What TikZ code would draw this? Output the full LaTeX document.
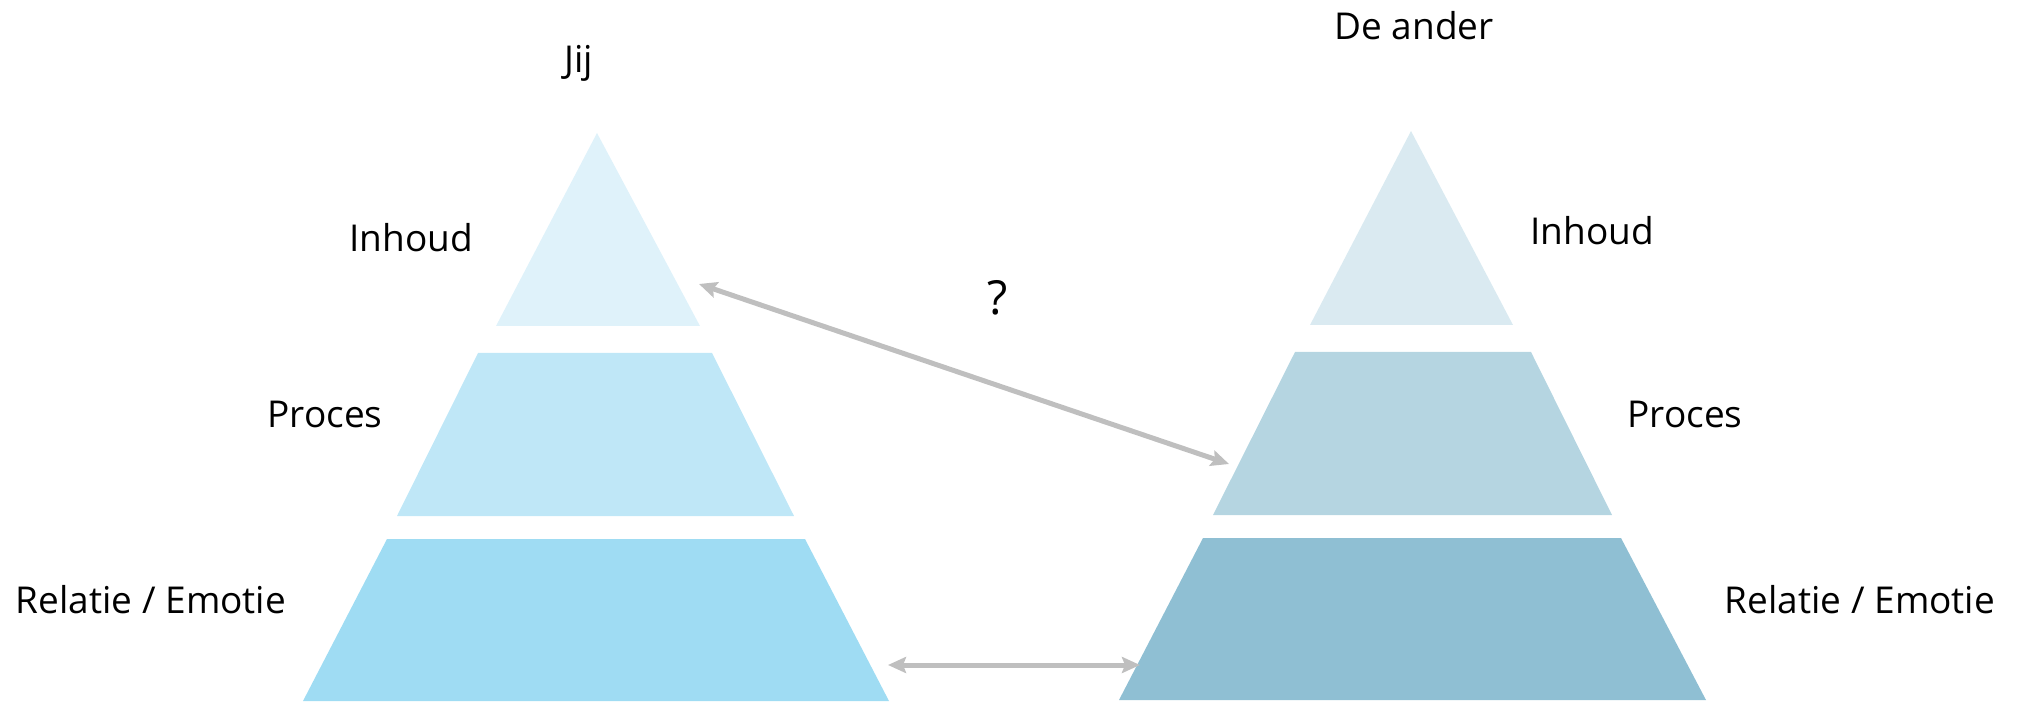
\documentclass[tikz,border=0pt]{standalone}
\usepackage{fontspec}
\setmainfont{Open Sans}
\usetikzlibrary{arrows.meta}
\definecolor{lA}{HTML}{DFF2FA}
\definecolor{lB}{HTML}{BFE7F7}
\definecolor{lC}{HTML}{9FDCF3}
\definecolor{rA}{HTML}{DAEAF1}
\definecolor{rB}{HTML}{B5D5E1}
\definecolor{rC}{HTML}{8FBFD3}
\definecolor{arrowgray}{HTML}{BFBFBF}
\tikzset{
  lbl/.style={font=\fontsize{37}{44}\selectfont, inner sep=0pt, anchor=base},
  link/.style={draw=arrowgray, line width=5pt, {Stealth[length=18pt,width=16pt,inset=3pt]}-{Stealth[length=18pt,width=16pt,inset=3pt]}}
}
\begin{document}
\begin{tikzpicture}[x=1pt,y=-1pt]
\useasboundingbox (0,0) rectangle (2022,703);
% left pyramid
\fill[lA] (597,133) -- (700,326) -- (496,326) -- cycle;
\fill[lB] (478,353) -- (712,353) -- (794,516) -- (397,516) -- cycle;
\fill[lC] (387,539) -- (805,539) -- (889,701) -- (303,701) -- cycle;
% right pyramid
\fill[rA] (1411,131) -- (1513,325) -- (1310,325) -- cycle;
\fill[rB] (1295,352) -- (1531,352) -- (1612,515) -- (1213,515) -- cycle;
\fill[rC] (1203,538) -- (1621,538) -- (1706,700) -- (1119,700) -- cycle;
% labels
\node[lbl] (jij) at (579,73) {Jij};
\node[lbl] (ander) at (1414,40) {De ander};
\node[lbl] (inhL) at (411,252) {Inhoud};
\node[lbl] (proL) at (325,427) {Proces};
\node[lbl] (relL) at (151,613) {Relatie / Emotie};
\node[lbl] (inhR) at (1592,245) {Inhoud};
\node[lbl] (proR) at (1685,427) {Proces};
\node[lbl] (relR) at (1860,613) {Relatie / Emotie};
\node[lbl, font=\fontsize{47}{56}\selectfont] (q) at (998,315) {?};
% connectors
\coordinate (dA) at (699,284);
\coordinate (dB) at (1229,464);
\coordinate (hA) at (888,665);
\coordinate (hB) at (1140,665);
\draw[link] (dA) -- (dB);
\draw[link] (hA) -- (hB);
\end{tikzpicture}
\end{document}
